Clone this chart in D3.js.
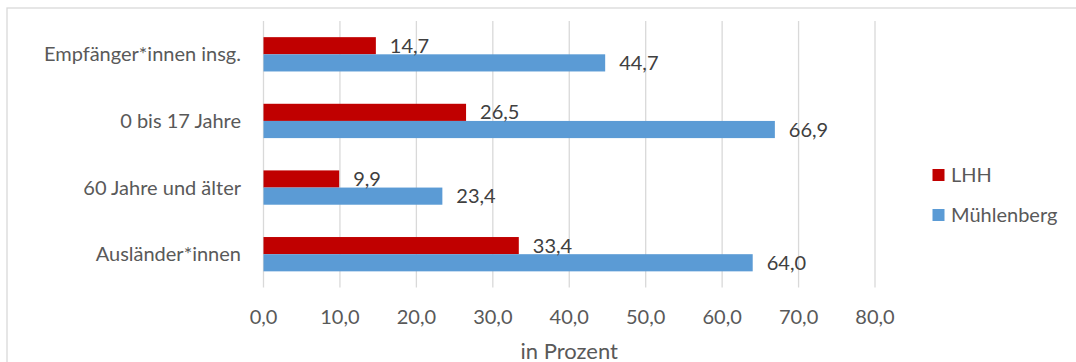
<!DOCTYPE html>
<html>
<head>
<meta charset="utf-8">
<script src="https://cdn.jsdelivr.net/npm/d3@7"></script>
<style>
  html, body { margin: 0; padding: 0; background: #fff; }
  svg { display: block; font-family: Lato, "Open Sans", sans-serif; }
</style>
</head>
<body>
<svg id="chart" width="1076" height="362"></svg>
<script>
// Categories (top to bottom) and the two series
const categories = ["Empfänger*innen insg.", "0 bis 17 Jahre", "60 Jahre und älter", "Ausländer*innen"];
const seriesNames = ["LHH", "Mühlenberg"];
const lhhValues = [14.7, 26.5, 9.9, 33.4];
const muehlenbergValues = [44.7, 66.9, 23.4, 64.0];
const xTicks = [0, 10, 20, 30, 40, 50, 60, 70, 80];
const seriesColors = ["#C00000", "#5B9BD5"];
const axisTitle = "in Prozent";

const rows = categories.map((c, i) => ({
  category: c,
  values: [
    { series: seriesNames[0], value: lhhValues[i] },
    { series: seriesNames[1], value: muehlenbergValues[i] }
  ]
}));

const svg = d3.select("#chart");
const fmt = v => d3.format(".1f")(v).replace(".", ",");
const fontSize = 20;
const titleSize = 22;

// frame around the chart area
svg.append("rect")
  .attr("x", 7).attr("y", 8)
  .attr("width", 1100).attr("height", 400)
  .attr("fill", "none").attr("stroke", "#d9d9d9").attr("stroke-width", 1.3);

const plot = { left: 263.5, right: 875, top: 21, bottom: 287.5 };

const x = d3.scaleLinear().domain([0, 80]).range([plot.left, plot.right]);
const y = d3.scaleBand().domain(categories).range([plot.top, plot.bottom]).paddingInner(0.485).paddingOuter(0.2425);
const ySub = d3.scaleBand().domain(seriesNames).range([0, y.bandwidth()]);
const color = d3.scaleOrdinal().domain(seriesNames).range(seriesColors);

// vertical gridlines
svg.append("g")
  .selectAll("line")
  .data(xTicks)
  .join("line")
  .attr("x1", d => x(d)).attr("x2", d => x(d))
  .attr("y1", plot.top).attr("y2", plot.bottom)
  .attr("stroke", "#d9d9d9").attr("stroke-width", 1.3);

// x tick labels
svg.append("g")
  .selectAll("text")
  .data(xTicks)
  .join("text")
  .attr("x", d => x(d)).attr("y", 323.5)
  .attr("text-anchor", "middle")
  .attr("font-size", fontSize).attr("fill", "#595959")
  .text(d => fmt(d));

// axis title
svg.append("text")
  .attr("x", (plot.left + plot.right) / 2).attr("y", 358.5)
  .attr("text-anchor", "middle")
  .attr("font-size", titleSize).attr("fill", "#595959")
  .text(axisTitle);

// category labels
svg.append("g")
  .selectAll("text")
  .data(categories)
  .join("text")
  .attr("x", 241).attr("y", d => y(d) + y.bandwidth() / 2)
  .attr("dy", "0.35em")
  .attr("text-anchor", "end")
  .attr("font-size", fontSize).attr("fill", "#595959")
  .text(d => d);

// bars with value labels
const groups = svg.append("g")
  .selectAll("g")
  .data(rows)
  .join("g")
  .attr("transform", d => `translate(0,${y(d.category)})`);

groups.selectAll("rect")
  .data(d => d.values)
  .join("rect")
  .attr("x", x(0))
  .attr("y", d => ySub(d.series))
  .attr("width", d => x(d.value) - x(0))
  .attr("height", ySub.bandwidth())
  .attr("fill", d => color(d.series));

groups.selectAll("text")
  .data(d => d.values)
  .join("text")
  .attr("x", d => x(d.value) + 14)
  .attr("y", d => ySub(d.series) + ySub.bandwidth() / 2)
  .attr("dy", "0.35em")
  .attr("font-size", fontSize).attr("fill", "#404040")
  .text(d => fmt(d.value));

// legend
const legend = svg.append("g")
  .selectAll("g")
  .data(seriesNames)
  .join("g")
  .attr("transform", (d, i) => `translate(932.5,${175 + i * 40})`);

legend.append("rect")
  .attr("x", 0).attr("y", -6)
  .attr("width", 12).attr("height", 12)
  .attr("fill", d => color(d));

legend.append("text")
  .attr("x", 18.5).attr("y", 0)
  .attr("dy", "0.35em")
  .attr("font-size", fontSize).attr("fill", "#595959")
  .text(d => d);
</script>
</body>
</html>
